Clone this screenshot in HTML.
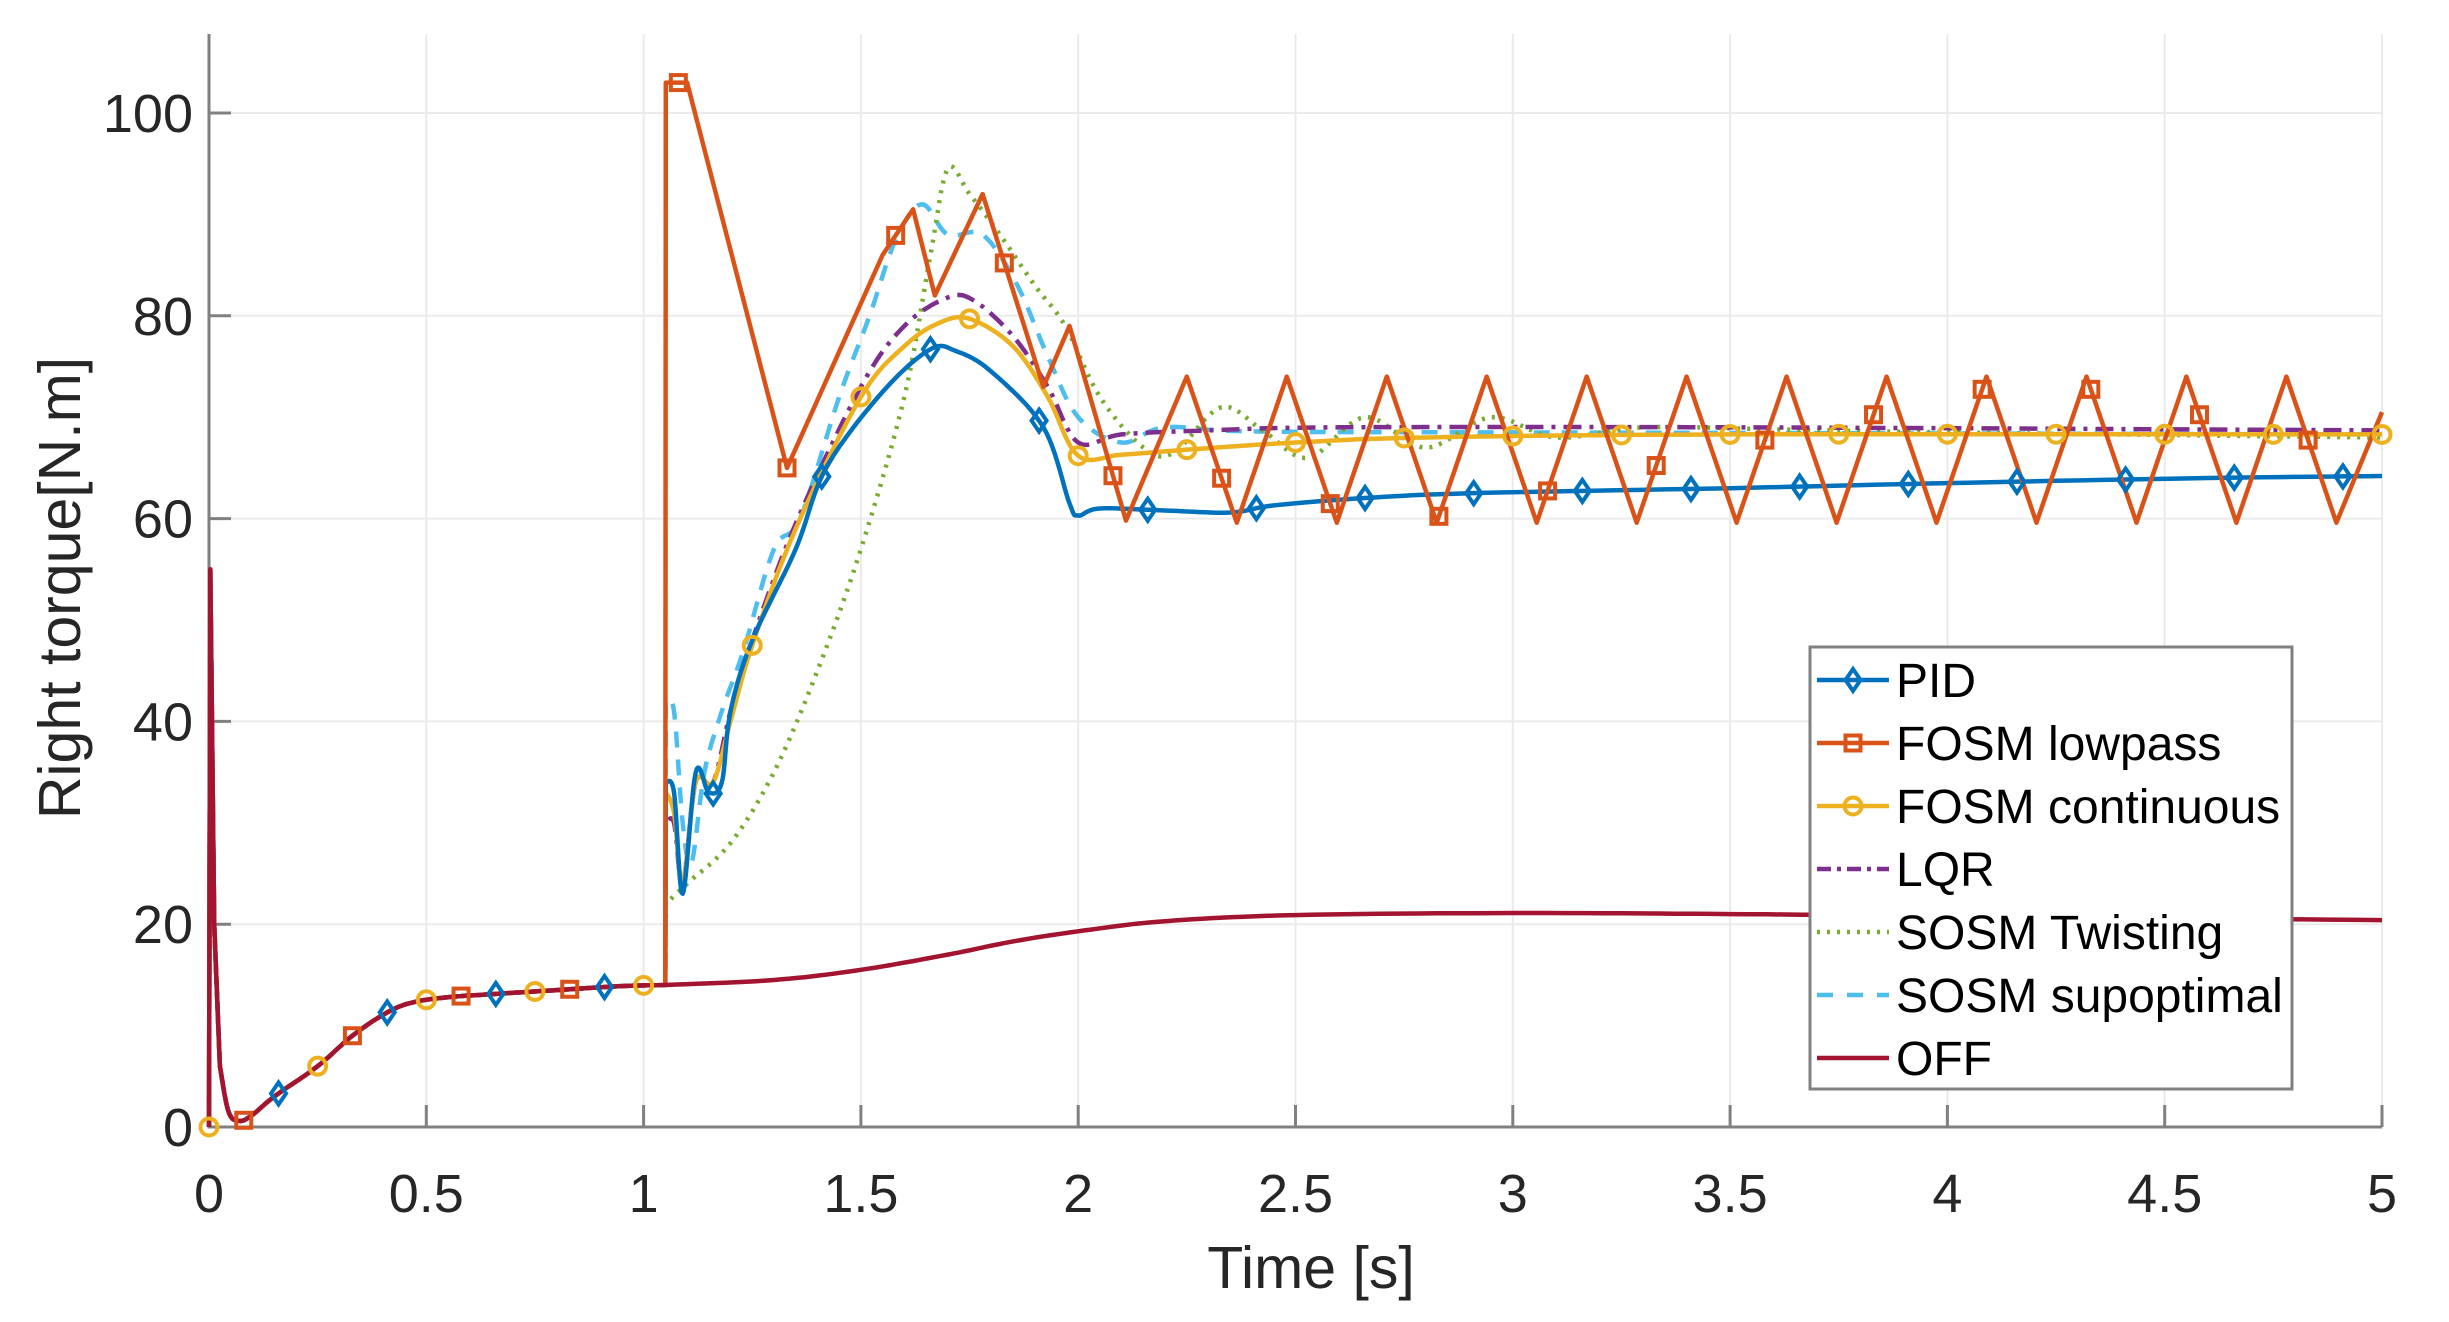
<!DOCTYPE html>
<html><head><meta charset="utf-8"><style>
html,body{margin:0;padding:0;background:#fff;}
svg{display:block;font-family:"Liberation Sans",Arial,sans-serif;}
</style></head><body>
<svg id="s" width="2449" height="1322" viewBox="0 0 2449 1322" xmlns="http://www.w3.org/2000/svg">
<rect width="2449" height="1322" fill="#fff"/>
<g id="grid" stroke="#ebebeb" stroke-width="2"></g>
<g id="axes"></g>
<g id="data" fill="none" stroke-linejoin="round"></g>
<g id="mk"></g>
<text x="1311" y="1288" font-size="59" text-anchor="middle" fill="#262626">Time [s]</text>
<text transform="translate(80,588) rotate(-90)" font-size="59" text-anchor="middle" fill="#262626">Right torque[N.m]</text>
<g id="leg"></g>
</svg>
<script>
var NS="http://www.w3.org/2000/svg";
function X(t){return 209+t*434.6;}
function Y(v){return 1127-v*10.14;}
function el(p,tag,a,txt){var e=document.createElementNS(NS,tag);for(var k in a)e.setAttribute(k,a[k]);if(txt!=null)e.textContent=txt;p.appendChild(e);return e;}
var G=document.getElementById('grid'),A=document.getElementById('axes'),D=document.getElementById('data'),M=document.getElementById('mk'),L=document.getElementById('leg');
for(var i=0;i<=10;i++){var t=i*0.5,x=X(t);if(i>0)el(G,'line',{x1:x,y1:34,x2:x,y2:1127});
 el(A,'line',{x1:x,y1:1127,x2:x,y2:1105,stroke:'#808080','stroke-width':3});
 el(A,'text',{x:x,y:1212,'font-size':54,'text-anchor':'middle',fill:'#262626'},String(t));}
for(var v=0;v<=100;v+=20){var y=Y(v);if(v>0)el(G,'line',{x1:209,y1:y,x2:2382,y2:y});
 el(A,'line',{x1:209,y1:y,x2:231,y2:y,stroke:'#808080','stroke-width':3});
 el(A,'text',{x:193,y:y+19,'font-size':54,'text-anchor':'end',fill:'#262626'},String(v));}
el(A,'polyline',{points:'209,34 209,1127 2382,1127',fill:'none',stroke:'#808080','stroke-width':3});
function interp(pts,step){var out=[];for(var i=0;i<pts.length-1;i++){var p0=pts[Math.max(0,i-1)],p1=pts[i],p2=pts[i+1],p3=pts[Math.min(pts.length-1,i+2)];
 for(var s=0;s<step;s++){var u=s/step,u2=u*u,u3=u2*u;
 var f=function(a,b,c,d){return 0.5*((2*b)+(-a+c)*u+(2*a-5*b+4*c-d)*u2+(-a+3*b-3*c+d)*u3);};
 out.push([f(p0[0],p1[0],p2[0],p3[0]),f(p0[1],p1[1],p2[1],p3[1])]);}}
 out.push(pts[pts.length-1]);return out;}
function evalAt(pts,t){for(var i=0;i<pts.length-1;i++){if(t>=pts[i][0]&&t<=pts[i+1][0]){var a=pts[i],b=pts[i+1];var u=(t-a[0])/(b[0]-a[0]||1);return a[1]+u*(b[1]-a[1]);}}return pts[pts.length-1][1];}
function path(pts){return pts.map(function(p,i){return (i?'L':'M')+X(p[0]).toFixed(1)+','+Y(p[1]).toFixed(1);}).join('');}
var spike=[[0,0],[0.003,55],[0.012,20],[0.025,6]];
var pre=[[0.025,6],[0.045,1.5],[0.07,0.6],[0.1,1.2],[0.15,3],[0.25,6],[0.33,9],[0.41,11.3],[0.47,12.3],[0.55,12.8],[0.65,13.1],[0.8,13.5],[0.95,13.9],[1.05,14]];
var preI=spike.concat(interp(pre,12));
var offPost=[[1.05,14],[1.3,14.5],[1.5,15.5],[1.7,17],[1.85,18.3],[2.0,19.3],[2.2,20.3],[2.5,20.9],[3.0,21.1],[3.5,21],[4.0,20.8],[4.5,20.6],[5,20.4]];
var pidp=[[1.051,34],[1.07,33],[1.09,23],[1.12,35],[1.15,33],[1.18,34],[1.2,41],[1.25,48],[1.35,57],[1.42,65],[1.55,72.5],[1.66,76.7],[1.72,76.5],[1.8,74.5],[1.92,69],[1.98,61.5],[2.0,60.3],[2.05,61],[2.2,60.8],[2.35,60.6],[2.45,61.3],[2.65,62],[2.9,62.5],[3.5,63],[4,63.5],[4.6,64],[5,64.2]];
var yel=[[1.051,33],[1.07,31],[1.09,24],[1.12,34],[1.16,34],[1.2,40],[1.25,47.5],[1.35,59],[1.5,72],[1.6,77],[1.68,79.3],[1.75,79.7],[1.85,77],[1.93,72],[2.0,66.2],[2.1,66.3],[2.25,66.8],[2.5,67.5],[2.8,68],[3.5,68.3],[5,68.3]];
var lqr=[[1.051,30],[1.07,30],[1.09,24],[1.12,34],[1.16,34],[1.2,41],[1.25,48],[1.35,59.5],[1.5,73],[1.6,79],[1.7,81.8],[1.76,81.5],[1.85,78],[1.93,73],[2.0,67.5],[2.1,68.3],[2.3,68.7],[2.6,69],[3.5,69],[5,68.7]];
var tw=[[1.051,22],[1.1,24],[1.2,28],[1.3,35],[1.4,45],[1.5,57],[1.6,72],[1.66,86],[1.7,94.5],[1.75,92],[1.82,88],[1.9,83],[1.97,79],[2.05,72],[2.15,67],[2.22,66.5],[2.33,71],[2.43,68.5],[2.53,66],[2.66,70],[2.8,67],[2.95,70],[3.1,68],[3.3,69],[3.6,68.8],[4,68.5],[5,68]];
var sb=[[1.051,42],[1.07,41],[1.09,30],[1.11,26],[1.14,35],[1.18,41],[1.23,47],[1.3,57],[1.36,60],[1.45,72],[1.52,80],[1.58,87.5],[1.64,91],[1.7,88],[1.78,88],[1.86,83],[1.93,76],[2.0,70],[2.1,67.5],[2.2,69],[2.4,68.6],[3,68.5],[5,68.3]];
var fl=[[1.05,14],[1.051,103],[1.1,103],[1.33,65],[1.55,86],[1.62,90.5],[1.67,82],[1.78,92],[1.92,73],[1.98,79],[2.11,59.8]];
var peaks=[2.25,2.48,2.71,2.94,3.17,3.40,3.63,3.86,4.09,4.32,4.55,4.78];
peaks.forEach(function(p){fl.push([p,74]);fl.push([p+0.115,59.6]);});
fl=fl.filter(function(p){return p[0]<=5;});fl.push([5,70.5]);
var BL='#0072BD',OR='#D95319',YE='#EDB120',PU='#7E2F8E',GR='#77AC30',CY='#4DBEEE',RD='#A2142F';
function drawP(P,col,w,dash){var a={d:path(P),stroke:col,'stroke-width':w};if(dash)a['stroke-dasharray']=dash;el(D,'path',a);}
function post(p){return preI.concat([[1.05,14]]).concat(interp(p,12));}
var sbI=post(sb),twI=post(tw),lqI=post(lqr),yeI=post(yel),piI=post(pidp),flI=preI.concat(fl),offI=preI.concat(interp(offPost,12));
drawP(sbI,CY,4.5,'16,12');
drawP(twI,GR,4.5,'3,7');
drawP(lqI,PU,4.5,'18,8,4,8');
drawP(yeI,YE,4.5);
drawP(piI,BL,4.5);
drawP(flI,OR,4.5);
drawP(offI,RD,4.5);
function diamond(g,x,y,c){el(g,'path',{d:'M'+x+','+(y-11)+'L'+(x+7.5)+','+y+'L'+x+','+(y+11)+'L'+(x-7.5)+','+y+'Z',fill:'none',stroke:c,'stroke-width':4});}
function square(g,x,y,c){el(g,'rect',{x:x-7.5,y:y-7.5,width:15,height:15,fill:'none',stroke:c,'stroke-width':4});}
function circ(g,x,y,c){el(g,'circle',{cx:x,cy:y,r:8.5,fill:'none',stroke:c,'stroke-width':4});}
for(var t=0.16;t<=5;t+=0.25)diamond(M,X(t),Y(evalAt(piI,t)),BL);
for(var t=0.08;t<=5;t+=0.25)square(M,X(t),Y(evalAt(flI,t)),OR);
for(var t=0;t<=5.001;t+=0.25)circ(M,X(t),Y(t<0.01?0:evalAt(yeI,t)),YE);
M.parentNode.appendChild(L);
el(L,'rect',{x:1810,y:647,width:482,height:442,fill:'#fff',stroke:'#808080','stroke-width':3});
var names=['PID','FOSM lowpass','FOSM continuous','LQR','SOSM Twisting','SOSM supoptimal','OFF'];
var cols=[BL,OR,YE,PU,GR,CY,RD],dashes=[null,null,null,'14,6,4,6','3,7','16,14',null];
names.forEach(function(n,i){var y=680+i*63;var a={x1:1817,y1:y,x2:1889,y2:y,stroke:cols[i],'stroke-width':4.5};if(dashes[i])a['stroke-dasharray']=dashes[i];el(L,'line',a);
 if(i==0)diamond(L,1853,y,BL);if(i==1)square(L,1853,y,OR);if(i==2)circ(L,1853,y,YE);
 el(L,'text',{x:1896,y:y+17,'font-size':48,fill:'#000'},n);});
</script>
</body></html>
